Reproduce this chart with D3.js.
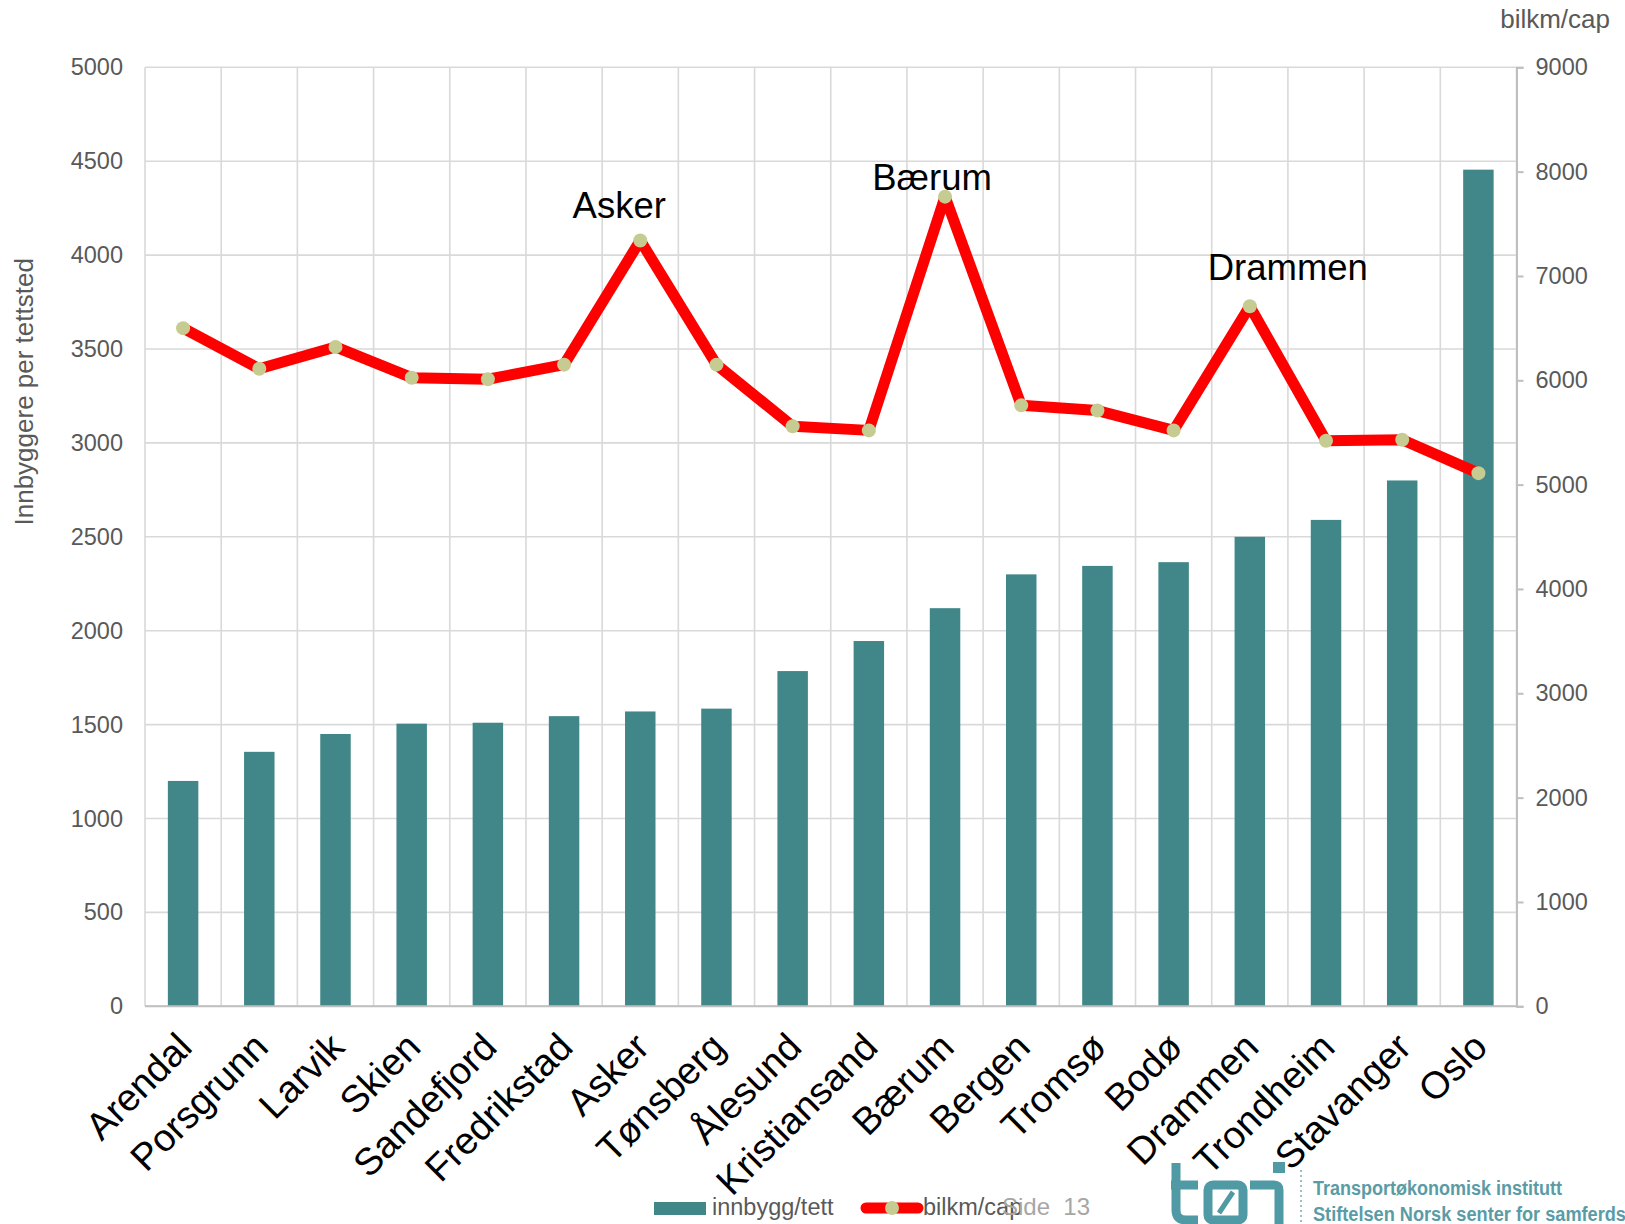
<!DOCTYPE html>
<html>
<head>
<meta charset="utf-8">
<script src="https://cdn.jsdelivr.net/npm/d3@7"></script>
<style>
  html, body { margin: 0; padding: 0; background: #ffffff; }
  svg { display: block; font-family: "Liberation Sans", Arial, sans-serif; }
</style>
</head>
<body>
<svg id="chart" width="1625" height="1224"></svg>
<script>
// Tettsteder, sortert etter innbyggere per tettsted
const categories = ["Arendal", "Porsgrunn", "Larvik", "Skien", "Sandefjord", "Fredrikstad",
  "Asker", "Tønsberg", "Ålesund", "Kristiansand", "Bærum", "Bergen", "Tromsø", "Bodø",
  "Drammen", "Trondheim", "Stavanger", "Oslo"];

// innbygg/tett (venstre akse)
const innbyggTett = [1200, 1355, 1450, 1505, 1510, 1545, 1570, 1585, 1785, 1945,
  2120, 2300, 2345, 2365, 2500, 2590, 2800, 4455];

// bilkm/cap (høyre akse)
const bilkmCap = [6500, 6110, 6320, 6025, 6010, 6150, 7340, 6150, 5560, 5520,
  7760, 5760, 5710, 5520, 6710, 5420, 5430, 5110];

const leftTicks = [0, 500, 1000, 1500, 2000, 2500, 3000, 3500, 4000, 4500, 5000];
const rightTicks = [0, 1000, 2000, 3000, 4000, 5000, 6000, 7000, 8000, 9000];

// Tettsteder som er merket over linja
const highlighted = ["Asker", "Bærum", "Drammen"];

const seriesNames = ["innbygg/tett", "bilkm/cap"];

// ---- layout ----
const plot = { left: 145, right: 1516.5, top: 67.3, bottom: 1006.3 };
const barColor = "#41878a";
const lineColor = "#ff0000";
const markerColor = "#c6cb92";
const gridColor = "#d9d9d9";
const axisColor = "#bfbfbf";
const textGray = "#595959";

const svg = d3.select("#chart");

const x = d3.scaleBand().domain(categories).range([plot.left, plot.right]).padding(0);
const yL = d3.scaleLinear().domain([0, 5000]).range([plot.bottom, plot.top]);
const yR = d3.scaleLinear().domain([0, 9000]).range([plot.bottom, plot.top]);

// grid: horizontal lines at left-axis ticks, vertical lines between categories
const grid = svg.append("g");
grid.selectAll("line.h").data(leftTicks).join("line")
  .attr("x1", plot.left).attr("x2", plot.right)
  .attr("y1", d => yL(d)).attr("y2", d => yL(d))
  .attr("stroke", gridColor).attr("stroke-width", 1.6);
const bounds = categories.map(c => x(c)).concat([x(categories[categories.length - 1]) + x.bandwidth()]);
grid.selectAll("line.v").data(bounds).join("line")
  .attr("x1", d => d).attr("x2", d => d)
  .attr("y1", plot.top).attr("y2", plot.bottom)
  .attr("stroke", gridColor).attr("stroke-width", 1.6);

// bars
const barW = x.bandwidth() * 0.4;
svg.append("g").selectAll("rect").data(categories).join("rect")
  .attr("x", (c) => x(c) + (x.bandwidth() - barW) / 2)
  .attr("width", barW)
  .attr("y", (c, i) => yL(innbyggTett[i]))
  .attr("height", (c, i) => plot.bottom - yL(innbyggTett[i]))
  .attr("fill", barColor);

// category axis line
svg.append("line")
  .attr("x1", plot.left).attr("x2", plot.right)
  .attr("y1", plot.bottom).attr("y2", plot.bottom)
  .attr("stroke", axisColor).attr("stroke-width", 2);

// left axis
const leftAxis = svg.append("g")
  .attr("transform", `translate(${plot.left},0)`)
  .call(d3.axisLeft(yL).tickValues(leftTicks).tickSize(0).tickPadding(22).tickFormat(d3.format("d")));
leftAxis.select(".domain").remove();
leftAxis.selectAll("text")
  .attr("fill", textGray).style("font-size", "23.5px")
  .style("font-family", "'Liberation Sans', Arial, sans-serif");

// right axis
const rightAxis = svg.append("g")
  .attr("transform", `translate(${plot.right},0)`)
  .call(d3.axisRight(yR).tickValues(rightTicks).tickSize(7).tickPadding(12).tickFormat(d3.format("d")));
rightAxis.select(".domain").attr("stroke", axisColor).attr("stroke-width", 2);
rightAxis.selectAll(".tick line").attr("stroke", axisColor).attr("stroke-width", 2);
rightAxis.selectAll("text")
  .attr("fill", textGray).style("font-size", "23.5px")
  .style("font-family", "'Liberation Sans', Arial, sans-serif");

// axis titles
svg.append("text")
  .attr("transform", `translate(33,${(plot.top + plot.bottom) / 2 - 145}) rotate(-90)`)
  .attr("text-anchor", "middle")
  .attr("fill", textGray).style("font-size", "26px")
  .text("Innbyggere per tettsted");
svg.append("text")
  .attr("x", 1610).attr("y", 28)
  .attr("text-anchor", "end")
  .attr("fill", textGray).style("font-size", "26px")
  .text("bilkm/cap");

// category labels, rotated
svg.append("g").selectAll("text").data(categories).join("text")
  .attr("transform", c => `translate(${x(c) + x.bandwidth() / 2 + 11},${plot.bottom + 43}) rotate(-45)`)
  .attr("text-anchor", "end")
  .attr("fill", "#000")
  .style("font-size", "38px")
  .text(c => c);

// bilkm/cap line with markers
const pts = categories.map((c, i) => [x(c) + x.bandwidth() / 2, yR(bilkmCap[i])]);
svg.append("path")
  .attr("d", d3.line()(pts))
  .attr("fill", "none")
  .attr("stroke", lineColor)
  .attr("stroke-width", 11)
  .attr("stroke-linejoin", "round")
  .attr("stroke-linecap", "round");
svg.append("g").selectAll("circle").data(pts).join("circle")
  .attr("cx", d => d[0]).attr("cy", d => d[1]).attr("r", 7)
  .attr("fill", markerColor);

// name labels above selected peaks
const labelPlacement = { "Asker": [-21, -22], "Bærum": [-13, -7], "Drammen": [38, -26] };
svg.append("g").selectAll("text").data(highlighted).join("text")
  .attr("x", c => x(c) + x.bandwidth() / 2 + labelPlacement[c][0])
  .attr("y", c => yR(bilkmCap[categories.indexOf(c)]) + labelPlacement[c][1])
  .attr("text-anchor", "middle")
  .attr("fill", "#000")
  .style("font-size", "36.5px")
  .text(c => c);

// legend
const legend = svg.append("g");
legend.append("rect").attr("x", 654).attr("y", 1202).attr("width", 52).attr("height", 13).attr("fill", barColor);
legend.append("text").attr("x", 712).attr("y", 1215)
  .attr("fill", textGray).style("font-size", "23.5px").text(seriesNames[0]);
legend.append("line").attr("x1", 866).attr("x2", 918).attr("y1", 1208).attr("y2", 1208)
  .attr("stroke", lineColor).attr("stroke-width", 11).attr("stroke-linecap", "round");
legend.append("circle").attr("cx", 892).attr("cy", 1208).attr("r", 7).attr("fill", markerColor);
legend.append("text").attr("x", 923).attr("y", 1215)
  .attr("fill", textGray).style("font-size", "23.5px").text(seriesNames[1]);

// page number
svg.append("text").attr("x", 1002).attr("y", 1215)
  .attr("fill", "#a6a6a6").style("font-size", "24px")
  .attr("xml:space", "preserve").style("white-space", "pre")
  .text("Side  13");

// institute logo
const logoColor = "#4f9aa4";
const logo = svg.append("g").attr("fill", "none").attr("stroke", logoColor).attr("stroke-width", 9);
// t
logo.append("path").attr("d", "M1176,1163 L1176,1210 Q1176,1220 1186,1220 L1198,1220");
logo.append("path").attr("d", "M1171,1185 L1198,1185");
// ø
logo.append("rect").attr("x", 1208).attr("y", 1185).attr("width", 35).attr("height", 35).attr("rx", 5);
logo.append("path").attr("d", "M1219,1213 L1233,1192").attr("stroke-width", 5);
// i
logo.append("path").attr("d", "M1250,1185 L1274,1185 Q1279,1185 1279,1190 L1279,1226");
logo.append("rect").attr("x", 1273).attr("y", 1162).attr("width", 12).attr("height", 11)
  .attr("fill", logoColor).attr("stroke", "none");
// separator
svg.append("line").attr("x1", 1301).attr("x2", 1301).attr("y1", 1170).attr("y2", 1224)
  .attr("stroke", "#9bbfc4").attr("stroke-width", 2).attr("stroke-dasharray", "2,3");
svg.append("text").attr("x", 1313).attr("y", 1195)
  .attr("fill", "#5a9ca6").style("font-size", "20px").style("font-weight", "bold")
  .attr("textLength", 249).attr("lengthAdjust", "spacingAndGlyphs")
  .text("Transportøkonomisk institutt");
svg.append("text").attr("x", 1313).attr("y", 1221)
  .attr("fill", "#5a9ca6").style("font-size", "20px").style("font-weight", "bold")
  .attr("textLength", 421).attr("lengthAdjust", "spacingAndGlyphs")
  .text("Stiftelsen Norsk senter for samferdselsforskning");
</script>
</body>
</html>
